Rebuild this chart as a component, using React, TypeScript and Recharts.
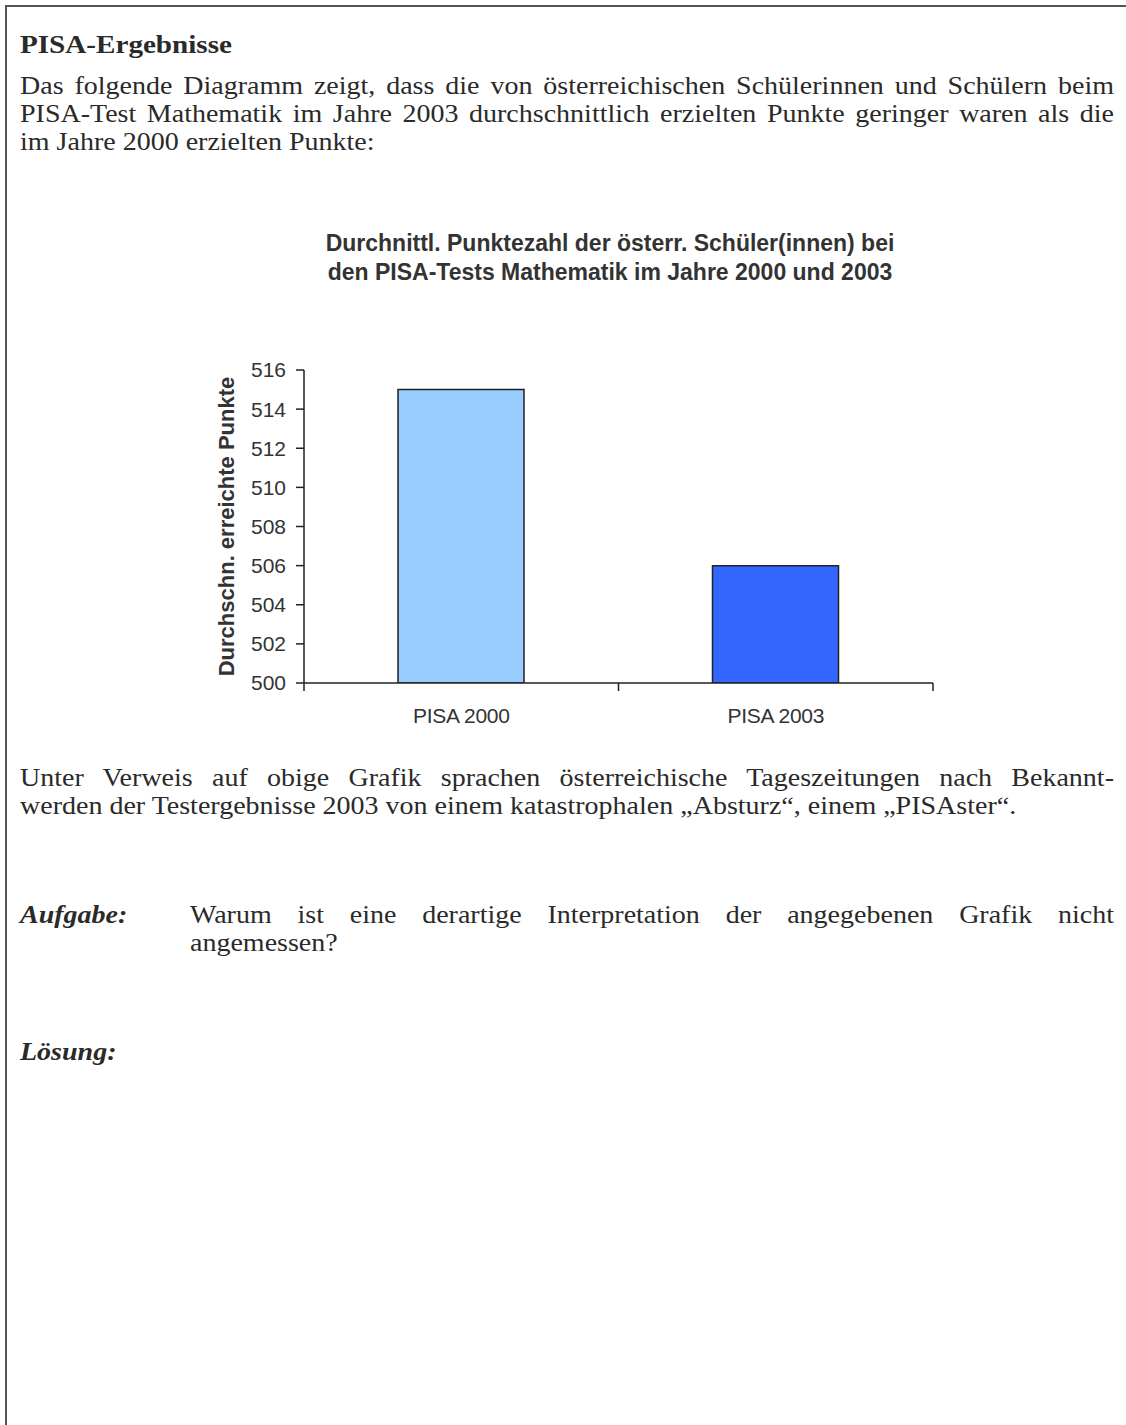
import React from 'react';
import { BarChart, Bar, XAxis, YAxis, Cell } from 'recharts';

const categories = ['PISA 2000', 'PISA 2003'];
const scores = [515, 506];
const barColors = ['#99ccff', '#3366ff'];
const yTicks = [500, 502, 504, 506, 508, 510, 512, 514, 516];

const chartTitle = [
  'Durchnittl. Punktezahl der österr. Schüler(innen) bei',
  'den PISA-Tests Mathematik im Jahre 2000 und 2003',
];
const yLabel = 'Durchschn. erreichte Punkte';

const introLines = [
  'Das folgende Diagramm zeigt, dass die von österreichischen Schülerinnen und Schülern beim',
  'PISA-Test Mathematik im Jahre 2003 durchschnittlich erzielten Punkte geringer waren als die',
  'im Jahre 2000 erzielten Punkte:',
];
const afterLines = [
  'Unter Verweis auf obige Grafik sprachen österreichische Tageszeitungen nach Bekannt-',
  'werden der Testergebnisse 2003 von einem katastrophalen „Absturz“, einem „PISAster“.',
];
const taskLines = [
  'Warum ist eine derartige Interpretation der angegebenen Grafik nicht',
  'angemessen?',
];

const data = categories.map((name, i) => ({ name, score: scores[i] }));

// chart geometry
const CHART_TOP = 330;
const CHART_W = 1126;
const CHART_H = 420;
const MARGIN = { top: 40, right: 193, bottom: 27, left: 180 };
const Y_AXIS_W = 124;
const X_AXIS_H = 40;
const PLOT_W = CHART_W - MARGIN.left - MARGIN.right - Y_AXIS_W;
const AXIS_Y = CHART_H - MARGIN.bottom - X_AXIS_H;
const BAND = PLOT_W / categories.length;

const serif = '"Liberation Serif", "Times New Roman", serif';
const sans = '"Liberation Sans", Arial, sans-serif';
const ink = '#2a2a2a';
// the scanned page is a little wider than tall
const STRETCH = 1.12;

function XTick(props: any) {
  const { x, payload, index } = props;
  return (
    <g>
      {index === 0 && (
        <line x1={x - BAND / 2} x2={x - BAND / 2} y1={AXIS_Y} y2={AXIS_Y + 8} stroke="#222" strokeWidth={1.5} />
      )}
      <line x1={x + BAND / 2} x2={x + BAND / 2} y1={AXIS_Y} y2={AXIS_Y + 8} stroke="#222" strokeWidth={1.5} />
      <text x={x} y={AXIS_Y + 40} textAnchor="middle" fill="#333" fontSize={21} fontFamily={sans} letterSpacing={-0.3}>
        {payload.value}
      </text>
    </g>
  );
}

function TextLine({ top, left = 20, width = 1094, justify = false, children, style = {} }: any) {
  return (
    <div
      style={{
        position: 'absolute',
        top,
        left,
        width: width / STRETCH,
        transform: `scaleX(${STRETCH})`,
        transformOrigin: '0 0',
        fontFamily: serif,
        fontSize: 25,
        lineHeight: '28px',
        color: ink,
        textAlign: justify ? 'justify' : 'left',
        textAlignLast: justify ? 'justify' : 'left',
        ...style,
      }}
    >
      {children}
    </div>
  );
}

export default function App() {
  return (
    <div
      style={{
        position: 'absolute',
        left: 0,
        top: 0,
        width: 1126,
        height: 1425,
        overflow: 'hidden',
        background: '#fff',
      }}
    >
      <div
        style={{
          position: 'absolute',
          left: 5,
          top: 5,
          width: 1300,
          height: 1600,
          borderLeft: '2px solid #555',
          borderTop: '2px solid #555',
        }}
      />

      <TextLine top={30} style={{ fontWeight: 'bold', fontSize: 26, lineHeight: '30px' }}>
        PISA-Ergebnisse
      </TextLine>
      {introLines.map((t, i) => (
        <TextLine key={t} top={72 + i * 28} justify={i < introLines.length - 1}>
          {t}
        </TextLine>
      ))}

      {chartTitle.map((t, i) => (
        <div
          key={t}
          style={{
            position: 'absolute',
            left: 0,
            width: 1220,
            top: 229 + i * 29,
            textAlign: 'center',
            fontFamily: sans,
            fontWeight: 'bold',
            fontSize: 23,
            lineHeight: '29px',
            color: '#333',
          }}
        >
          {t}
        </div>
      ))}

      <div style={{ position: 'absolute', left: 0, top: CHART_TOP }}>
        <BarChart width={CHART_W} height={CHART_H} data={data} margin={MARGIN} barSize={126}>
          <XAxis
            dataKey="name"
            height={X_AXIS_H}
            axisLine={{ stroke: '#222', strokeWidth: 1.5 }}
            tickLine={false}
            tick={<XTick />}
            interval={0}
          />
          <YAxis
            width={Y_AXIS_W}
            domain={[500, 516]}
            ticks={yTicks}
            allowDataOverflow
            axisLine={{ stroke: '#222', strokeWidth: 1.5 }}
            tickLine={{ stroke: '#222', strokeWidth: 1.5 }}
            tickSize={8}
            tickMargin={10}
            tick={{ fill: '#333', fontSize: 21, fontFamily: sans }}
            label={{
              value: yLabel,
              angle: -90,
              position: 'center',
              dx: -16,
              fill: '#333',
              fontSize: 22,
              fontWeight: 'bold',
              fontFamily: sans,
            }}
          />
          <Bar dataKey="score" stroke="#222" strokeWidth={1.5} isAnimationActive={false}>
            {data.map((d, i) => (
              <Cell key={d.name} fill={barColors[i]} />
            ))}
          </Bar>
        </BarChart>
      </div>

      {afterLines.map((t, i) => (
        <TextLine key={t} top={764 + i * 28} justify={i < afterLines.length - 1}>
          {t}
        </TextLine>
      ))}

      <TextLine top={901} style={{ fontWeight: 'bold', fontStyle: 'italic' }}>Aufgabe:</TextLine>
      {taskLines.map((t, i) => (
        <TextLine key={t} top={901 + i * 28} left={190} width={924} justify={i < taskLines.length - 1}>
          {t}
        </TextLine>
      ))}

      <TextLine top={1038} style={{ fontWeight: 'bold', fontStyle: 'italic' }}>Lösung:</TextLine>
    </div>
  );
}
